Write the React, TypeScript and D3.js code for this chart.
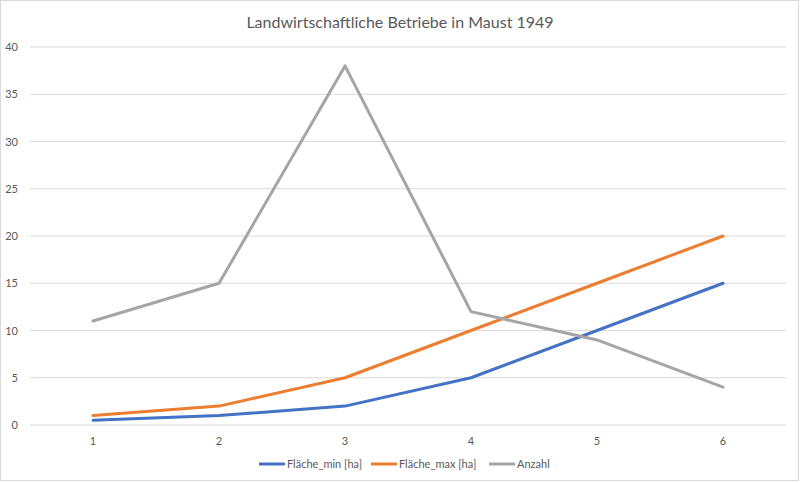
import React from "react";
import * as d3 from "d3";

const categories = ["1", "2", "3", "4", "5", "6"];
const flaecheMin = [0.5, 1, 2, 5, 10, 15];
const flaecheMax = [1, 2, 5, 10, 15, 20];
const anzahl = [11, 15, 38, 12, 9, 4];
const yTicks = [0, 5, 10, 15, 20, 25, 30, 35, 40];
const seriesNames = ["Fläche_min [ha]", "Fläche_max [ha]", "Anzahl"];
const seriesColors = ["#4472C4", "#ED7D31", "#A5A5A5"];

const W = 800;
const H = 483;
const FONT = "Lato, 'Open Sans', sans-serif";

export default function App() {
  const left = 30;
  const right = 786;
  const top = 47;
  const bottom = 425;
  const x = d3.scaleBand<string>().domain(categories).range([left, right]);
  const y = d3.scaleLinear().domain([0, 40]).range([bottom, top]);
  const cx = (c: string) => (x(c) as number) + x.bandwidth() / 2;
  const line = d3
    .line<number>()
    .x((_, i) => cx(categories[i]))
    .y((d) => y(d));
  const allSeries = [flaecheMin, flaecheMax, anzahl];
  const legendX = [259, 371, 489];

  return (
    <svg width={W} height={H} style={{ position: "absolute", left: 0, top: 0 }}>
      <rect x={0.5} y={0.5} width={W - 2} height={H - 3} fill="#fff" stroke="#D9D9D9" />
      <text x={400} y={28} textAnchor="middle" fontFamily={FONT} fontSize={16} fill="#595959">
        Landwirtschaftliche Betriebe in Maust 1949
      </text>
      {yTicks.map((t) => (
        <g key={t}>
          <line x1={left} x2={right} y1={y(t)} y2={y(t)} stroke="#D9D9D9" strokeWidth={1} />
          <text x={18} y={y(t) + 4} textAnchor="end" fontFamily={FONT} fontSize={11} fill="#595959">
            {t}
          </text>
        </g>
      ))}
      {categories.map((c) => (
        <text key={c} x={cx(c)} y={445} textAnchor="middle" fontFamily={FONT} fontSize={11} fill="#595959">
          {c}
        </text>
      ))}
      {allSeries.map((s, i) => (
        <path
          key={i}
          d={line(s) as string}
          fill="none"
          stroke={seriesColors[i]}
          strokeWidth={3}
          strokeLinejoin="round"
          strokeLinecap="round"
        />
      ))}
      {seriesNames.map((n, i) => (
        <g key={n}>
          <line x1={legendX[i]} x2={legendX[i] + 26} y1={464} y2={464} stroke={seriesColors[i]} strokeWidth={3} />
          <text x={legendX[i] + 28} y={468} fontFamily={FONT} fontSize={11} fill="#595959">
            {n}
          </text>
        </g>
      ))}
    </svg>
  );
}
